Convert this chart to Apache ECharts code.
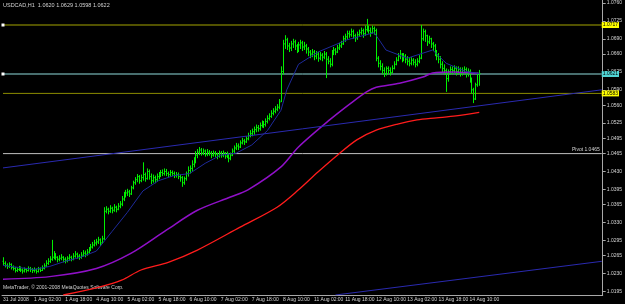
<!DOCTYPE html>
<html>
<head>
<meta charset="utf-8">
<script src="https://cdn.jsdelivr.net/npm/echarts@6.0.0/dist/echarts.min.js"></script>
<style>
  html, body { margin: 0; padding: 0; background: #000; }
  #chart { width: 625px; height: 304px; }
</style>
</head>
<body>
<div id="chart"></div>
<script>
// USDCAD H1 bars, values in pips above 1.0000 (one line = 16 hourly bars)
const opens = [
  254, 250, 246, 244, 248, 242, 240, 236, 238, 241, 237, 235, 238, 236, 240, 238,
  236, 237, 234, 239, 236, 240, 245, 250, 254, 258, 262, 268, 262, 258, 260, 262,
  258, 256, 260, 262, 258, 264, 268, 264, 262, 266, 270, 268, 272, 276, 282, 286,
  290, 292, 296, 290, 298, 352, 356, 352, 358, 354, 360, 356, 362, 366, 376, 384,
  388, 390, 386, 398, 408, 414, 420, 412, 418, 424, 416, 430, 420, 412, 418, 414,
  420, 424, 428, 426, 430, 426, 424, 428, 426, 422, 424, 420, 418, 408, 416, 426,
  432, 436, 444, 452, 462, 468, 472, 466, 470, 464, 468, 466, 462, 466, 464, 460,
  466, 462, 466, 460, 464, 456, 462, 470, 476, 480, 478, 486, 490, 488, 494, 500,
  504, 508, 512, 516, 514, 520, 524, 522, 528, 534, 538, 544, 548, 552, 556, 568,
  626, 680, 688, 676, 672, 680, 684, 676, 670, 678, 682, 674, 676, 670, 664, 660,
  664, 656, 660, 652, 658, 654, 660, 650, 646, 640, 662, 668, 664, 672, 676, 680,
  690, 694, 700, 698, 704, 696, 692, 698, 702, 706, 700, 708, 714, 706, 702, 710,
  706, 652, 642, 636, 628, 622, 632, 628, 624, 632, 640, 648, 656, 660, 652, 656,
  650, 646, 642, 648, 644, 640, 646, 652, 690, 704, 696, 684, 690, 680, 676, 664,
  656, 650, 640, 632, 628, 612, 626, 630, 628, 632, 626, 630, 624, 628, 630, 622,
  626, 610, 590, 572, 600, 620
];
const closes = [
  250, 246, 244, 248, 242, 240, 236, 238, 241, 237, 235, 238, 236, 240, 238, 236,
  237, 234, 239, 236, 240, 245, 250, 254, 258, 262, 268, 262, 258, 260, 262, 258,
  256, 260, 262, 258, 264, 268, 264, 262, 266, 270, 268, 272, 276, 282, 286, 290,
  292, 296, 290, 298, 352, 356, 352, 358, 354, 360, 356, 362, 366, 376, 384, 388,
  390, 386, 398, 408, 414, 420, 412, 418, 424, 416, 430, 420, 412, 418, 414, 420,
  424, 428, 426, 430, 426, 424, 428, 426, 422, 424, 420, 418, 408, 416, 426, 432,
  436, 444, 452, 462, 468, 472, 466, 470, 464, 468, 466, 462, 466, 464, 460, 466,
  462, 466, 460, 464, 456, 462, 470, 476, 480, 478, 486, 490, 488, 494, 500, 504,
  508, 512, 516, 514, 520, 524, 522, 528, 534, 538, 544, 548, 552, 556, 566, 626,
  680, 688, 676, 672, 680, 684, 676, 670, 678, 682, 674, 676, 670, 664, 660, 664,
  656, 660, 652, 658, 654, 660, 650, 646, 640, 662, 668, 664, 672, 676, 680, 690,
  694, 700, 698, 704, 696, 692, 698, 702, 706, 700, 708, 714, 706, 702, 710, 706,
  652, 642, 636, 628, 622, 632, 628, 624, 632, 640, 648, 656, 660, 652, 656, 650,
  646, 642, 648, 644, 640, 646, 652, 690, 704, 696, 684, 690, 680, 676, 664, 656,
  650, 640, 632, 628, 612, 626, 630, 628, 632, 626, 630, 624, 628, 630, 622, 626,
  610, 590, 572, 600, 620, 622
];
const lows = [
  246, 242, 239, 241, 238, 236, 232, 233, 235, 233, 230, 232, 232, 234, 233, 231,
  232, 230, 232, 233, 235, 238, 243, 247, 251, 255, 258, 256, 252, 254, 256, 252,
  250, 252, 255, 254, 256, 261, 259, 257, 259, 263, 262, 265, 269, 274, 279, 283,
  285, 288, 284, 288, 296, 348, 346, 349, 348, 351, 350, 354, 358, 362, 372, 379,
  382, 380, 384, 395, 404, 409, 406, 409, 412, 410, 414, 414, 405, 408, 407, 410,
  415, 419, 421, 422, 421, 419, 420, 421, 417, 418, 415, 410, 400, 404, 412, 420,
  426, 430, 438, 446, 456, 462, 461, 462, 459, 460, 461, 456, 459, 458, 454, 457,
  457, 458, 455, 456, 448, 452, 460, 466, 472, 472, 476, 483, 482, 486, 491, 497,
  499, 502, 507, 508, 510, 516, 515, 518, 524, 530, 535, 540, 544, 548, 552, 566,
  620, 670, 668, 664, 666, 672, 668, 662, 664, 670, 666, 668, 661, 656, 652, 654,
  648, 650, 645, 648, 646, 650, 613, 640, 634, 636, 658, 658, 662, 668, 672, 678,
  684, 688, 692, 694, 690, 684, 688, 694, 698, 692, 696, 704, 700, 694, 700, 698,
  646, 634, 628, 620, 615, 618, 620, 618, 622, 630, 638, 646, 650, 644, 646, 642,
  638, 636, 638, 638, 634, 636, 642, 650, 686, 684, 676, 680, 672, 666, 656, 648,
  642, 632, 624, 620, 586, 606, 620, 620, 622, 618, 620, 616, 618, 620, 614, 616,
  604, 582, 564, 570, 596, 598
];
const highs = [
  262, 254, 250, 252, 250, 246, 243, 242, 245, 244, 240, 242, 241, 244, 243, 241,
  242, 240, 243, 242, 246, 250, 256, 260, 264, 296, 274, 270, 264, 266, 268, 264,
  262, 264, 268, 265, 270, 274, 271, 268, 272, 276, 275, 278, 282, 288, 292, 296,
  298, 302, 299, 304, 360, 362, 359, 364, 361, 366, 363, 368, 372, 382, 390, 394,
  396, 394, 402, 412, 419, 425, 423, 424, 448, 428, 436, 434, 426, 424, 422, 426,
  429, 433, 434, 436, 435, 430, 433, 432, 430, 429, 428, 424, 421, 420, 430, 440,
  442, 452, 458, 470, 474, 478, 476, 475, 473, 474, 472, 470, 471, 470, 467, 471,
  470, 471, 468, 469, 466, 467, 475, 481, 486, 485, 491, 496, 494, 499, 506, 511,
  514, 518, 522, 521, 526, 530, 529, 534, 540, 544, 550, 554, 558, 562, 572, 636,
  688, 697, 692, 682, 686, 690, 688, 680, 684, 688, 686, 684, 680, 674, 668, 670,
  668, 666, 664, 664, 662, 666, 664, 656, 652, 668, 674, 672, 678, 682, 686, 696,
  700, 706, 706, 710, 708, 700, 704, 708, 712, 710, 716, 729, 716, 712, 716, 714,
  710, 656, 648, 642, 634, 636, 636, 634, 638, 646, 654, 662, 668, 662, 662, 660,
  656, 652, 654, 652, 650, 652, 658, 717, 710, 708, 698, 696, 692, 684, 680, 668,
  662, 656, 646, 640, 632, 630, 636, 636, 638, 636, 636, 634, 634, 636, 634, 632,
  630, 614, 594, 604, 624, 629
];

// moving averages: [bar index, pips]
const maFast = [[0, 246], [8, 242], [16, 238], [24, 244], [32, 254], [40, 262], [48, 274], [56, 312],
  [64, 350], [72, 392], [80, 412], [88, 422], [96, 426], [104, 446], [112, 462], [120, 466],
  [128, 482], [136, 510], [143, 550], [146, 590], [152, 640], [162, 664], [177, 688], [191, 702],
  [197, 668], [208, 652], [221, 668], [228, 642], [238, 626], [245, 622]];
const maMid = [[0, 219], [24, 224], [48, 240], [66, 270], [84, 315], [100, 354], [117, 380], [126, 394],
  [143, 439], [152, 478], [168, 531], [179, 564], [187, 586], [192, 595], [204, 603], [216, 615],
  [221, 623], [232, 625], [245, 622]];
const maSlow = [[31, 188], [49, 203], [61, 217], [71, 237], [85, 252], [100, 276], [122, 321], [141, 360],
  [152, 394], [162, 429], [172, 462], [182, 492], [192, 511], [203, 523], [213, 531], [223, 535],
  [233, 539], [245, 546]];

// trend lines: [bar index, price]
const trendUpper = [[0, 1.0437], [308, 1.0590]];
const trendLower = [[171, 1.0188], [308, 1.0254]];

// horizontal levels
const resistance = 1.0717;
const support = 1.0583;
const bid = 1.0621;
const pivot = 1.0465;

const timeLabels = ['31 Jul 2008', '1 Aug 02:00', '1 Aug 18:00', '4 Aug 10:00', '5 Aug 02:00',
  '5 Aug 18:00', '6 Aug 10:00', '7 Aug 02:00', '7 Aug 18:00', '8 Aug 10:00', '11 Aug 02:00',
  '11 Aug 18:00', '12 Aug 10:00', '13 Aug 02:00', '13 Aug 18:00', '14 Aug 10:00'];
const priceTicks = [1.0195, 1.0230, 1.0265, 1.0295, 1.0330, 1.0365, 1.0395, 1.0430, 1.0465,
  1.0495, 1.0525, 1.0560, 1.0590, 1.0625, 1.0660, 1.0690, 1.0725, 1.0760];
const header = 'USDCAD,H1  1.0620 1.0629 1.0598 1.0622';

const SLOTS = 309; // bars plus empty chart shift on the right
const LAST = SLOTS - 1;
const P = p => +(1 + p / 10000).toFixed(4);
const cats = [];
for (let i = 0; i < SLOTS; i++) cats.push(String(i));
const bars = opens.map((o, i) => [i, P(o), P(closes[i]), P(lows[i]), P(highs[i])]);
const toLine = arr => arr.map(d => [d[0], P(d[1])]);

const FONT = 'Liberation Sans';
const txt = '#d4d4d4';
const GREEN = '#00f000';

// MT4 style OHLC bar: high-low stick, open tick left, close tick right
function renderBar (params, api) {
  const x = Math.round(api.coord([api.value(0), api.value(1)])[0]) + 0.5;
  const yo = api.coord([api.value(0), api.value(1)])[1];
  const yc = api.coord([api.value(0), api.value(2)])[1];
  const yl = api.coord([api.value(0), api.value(3)])[1];
  const yh = api.coord([api.value(0), api.value(4)])[1];
  const style = { stroke: GREEN, lineWidth: 1 };
  return {
    type: 'group',
    children: [
      { type: 'line', shape: { x1: x, y1: yl, x2: x, y2: yh }, style },
      { type: 'line', shape: { x1: x - 1, y1: yo, x2: x, y2: yo }, style },
      { type: 'line', shape: { x1: x, y1: yc, x2: x + 1, y2: yc }, style }
    ]
  };
}

// horizontal price level drawn across the whole chart, price box at the right
function level (value, color, type, boxColor, anchor) {
  const first = anchor
    ? { value: [0, value], symbol: 'rect', symbolSize: 3, itemStyle: { color: '#ffffff' } }
    : [0, value];
  return {
    type: 'line',
    data: [first, [LAST, value]],
    symbol: 'none',
    showSymbol: true,
    z: 2,
    lineStyle: { color, type, width: 1 },
    endLabel: {
      show: true, distance: 0, backgroundColor: boxColor, color: '#000',
      fontSize: 5, lineHeight: 6, padding: [0, 1], fontFamily: FONT,
      formatter: value.toFixed(4)
    }
  };
}

const chart = echarts.init(document.getElementById('chart'));
chart.setOption({
  backgroundColor: '#000',
  animation: false,
  textStyle: { fontFamily: FONT },
  title: {
    text: header,
    left: 3, top: 2, padding: 0,
    textStyle: { color: txt, fontSize: 5.5, fontWeight: 'normal', fontFamily: FONT }
  },
  graphic: [{
    type: 'text', left: 3, top: 285,
    style: { text: 'MetaTrader, © 2001-2008 MetaQuotes Software Corp.', fill: txt, fontSize: 5, fontFamily: FONT }
  }],
  grid: { left: 2, right: 18, top: 0, bottom: 9 },
  xAxis: {
    type: 'category',
    data: cats,
    boundaryGap: true,
    axisLine: { lineStyle: { color: '#a8a8a8' } },
    axisTick: { alignWithLabel: true, interval: 15, length: 3, lineStyle: { color: '#a8a8a8' } },
    axisLabel: {
      interval: 15, color: txt, fontSize: 5, margin: 2, align: 'left',
      formatter: (v, i) => timeLabels[Math.round(i / 16)] || ''
    },
    splitLine: { show: false }
  },
  yAxis: {
    type: 'value',
    position: 'right',
    min: 1.0188, max: 1.0766,
    axisLine: { show: true, lineStyle: { color: '#a8a8a8' } },
    axisTick: { show: true, length: 3, customValues: priceTicks, lineStyle: { color: '#a8a8a8' } },
    axisLabel: {
      customValues: priceTicks, color: txt, fontSize: 5, margin: 4,
      formatter: v => v.toFixed(4)
    },
    splitLine: { show: false }
  },
  series: [
    {
      type: 'custom',
      data: bars,
      renderItem: renderBar,
      encode: { x: 0, y: [1, 2, 3, 4] },
      z: 3
    },
    { type: 'line', data: toLine(maFast), showSymbol: false, z: 4, lineStyle: { color: '#1e2a9a', width: 1 } },
    { type: 'line', data: toLine(maMid), showSymbol: false, smooth: 0.3, lineStyle: { color: '#9010c8', width: 1.5 } },
    { type: 'line', data: toLine(maSlow), showSymbol: false, smooth: 0.3, lineStyle: { color: '#ff1c1c', width: 1.3 } },
    { type: 'line', data: trendUpper, showSymbol: false, lineStyle: { color: '#2a2ab0', width: 1 } },
    { type: 'line', data: trendLower, showSymbol: false, lineStyle: { color: '#2a2ab0', width: 1 } },
    level(resistance, '#a4a400', 'solid', '#ffff00', true),
    level(support, '#8c8c00', 'solid', '#ffff00', false),
    level(bid, '#90dcdc', 'solid', '#50d4d4', true),
    {
      type: 'line',
      data: [[0, pivot], [LAST, pivot]],
      showSymbol: false,
      z: 2,
      lineStyle: { color: '#c0c0c0', width: 1 },
      endLabel: {
        show: true, distance: 0, align: 'right', offset: [-2, -4],
        color: txt, fontSize: 5, fontFamily: FONT,
        formatter: 'Pivot ' + pivot.toFixed(4)
      }
    }
  ]
});
</script>
</body>
</html>
